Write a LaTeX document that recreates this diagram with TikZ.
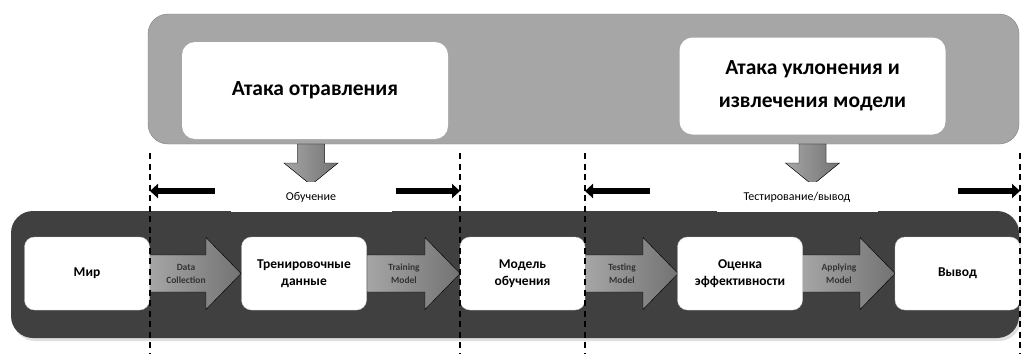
\documentclass[tikz,border=0pt]{standalone}
\usepackage{fontspec}
\setmainfont{Carlito}
\usetikzlibrary{calc, shadows, arrows.meta}

\begin{document}
\begin{tikzpicture}
      [x=1pt,y=-1pt
      ,panel/.style={draw=black!50,fill=gray!70,rounded corners=20pt,thin}
      ,band/.style={fill=black!75,rounded corners=22pt,drop shadow={shadow xshift=2pt,shadow yshift=-3pt,opacity=.25}}
      ,big/.style={fill=white,rounded corners=13pt,minimum width=266pt,minimum height=97pt,align=center,font=\bfseries\fontsize{21.5}{33}\selectfont}
      ,box/.style={draw=gray!40,fill=white,rounded corners=10pt,minimum width=125pt,minimum height=73pt,align=center,font=\bfseries\fontsize{13.5}{17}\selectfont}
      ,blk/.style={draw=black,left color=black!35,right color=black!55,thin}
      ,tag/.style={align=center,text=black!80,font=\bfseries\fontsize{9.5}{13}\selectfont}
      ,lab/.style={fill=white,minimum width=161pt,minimum height=30pt,font=\fontsize{12}{14}\selectfont}
      ,cutline/.style={draw=black,line width=1.2pt,dash pattern=on 6pt off 4.5pt}
      ,fat/.style={line width=6pt,-{Triangle[length=8pt,width=14pt]}}
      ]
        \useasboundingbox (0,0) rectangle (1022,354);

        % upper panel with the two attacks
        \draw[panel] (148,14) rectangle (1019,144);
        \node[big] (atk1) at (315,90.5) {Атака отравления};
        \node[big] (atk2) at (812.5,86) {Атака уклонения и\\извлечения модели};

        % down arrows out of the panel
        \foreach \n/\x in {d1/311, d2/812.5}
        {
            \coordinate (\n) at (\x,144);
            \filldraw[blk] (\n) ++(-13.5,0) -- ++(0,19) -- ++(-13.5,0) -- ++(27,22)
                -- ++(27,-22) -- ++(-13.5,0) -- ++(0,-19) -- cycle;
        }

        % lower band
        \fill[band] (11,211) rectangle (1019,338);

        \node[lab] (lab1) at (311,197) {Обучение};
        \node[lab] (lab2) at (797,197) {Тестирование/вывод};

        % block arrows between the stages
        \foreach \a/\b/\t in {149/241/{Data\\Collection}, 367/460/{Training\\Model}, 585/678/{Testing\\Model}, 802/895/{Applying\\Model}}
        {
            \coordinate (s) at (\a,273.5);
            \filldraw[blk] (s) ++(0,-18.5) -- ++(\b-\a-35,0) -- ++(0,-17.5) -- ++(35,36)
                -- ++(-35,36) -- ++(0,-17.5) -- ++(\a-\b+35,0) -- cycle;
            \node[tag] (t\a) at ($ (s) + (37,0) $) {\t};
        }

        % stages
        \foreach \n/\x/\t in {b1/87/Мир, b2/304/{Тренировочные\\данные}, b3/522.5/{Модель\\обучения}, b4/740/{Оценка\\эффективности}, b5/957.5/Вывод}
        {
            \node[box] (\n) at (\x,273.5) {\t};
        }

        % phase borders
        \foreach \n/\x in {c1/150, c2/460, c3/585, c4/1020}
        {
            \coordinate (\n) at (\x,153);
            \draw[cutline] (\n) -- (\x,354);
        }

        \coordinate (e1) at (215,191);
        \coordinate (e2) at (396,191);
        \coordinate (e3) at (650,191);
        \coordinate (e4) at (958,191);
        \draw[fat] (e1) -- (e1 -| c1);
        \draw[fat] (e2) -- (e2 -| c2);
        \draw[fat] (e3) -- (e3 -| c3);
        \draw[fat] (e4) -- (e4 -| c4);

       \end{tikzpicture}
\end{document}
